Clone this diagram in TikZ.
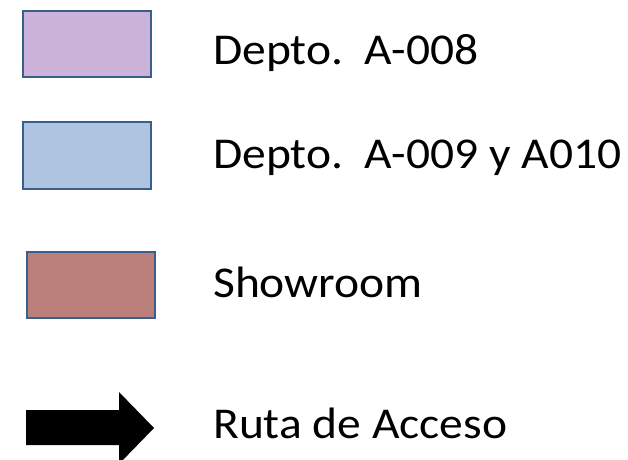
\documentclass[tikz,border=0pt]{standalone}
\usepackage{fontspec}
\setmainfont{Carlito}
\definecolor{edge}{HTML}{3A5F8E}
\definecolor{lilac}{HTML}{CAB2D8}
\definecolor{paleblue}{HTML}{AFC4E0}
\definecolor{rose}{HTML}{BB807C}
\newcommand{\widetext}[1]{\scalebox{1.08}[1]{#1}}
\tikzset{
  keybox/.style={draw=edge, line width=2pt, inner sep=0pt, anchor=north west},
  keytext/.style={anchor=base west, inner sep=0pt, font=\fontsize{44}{50}\selectfont}
}
\begin{document}
\begin{tikzpicture}[x=1pt,y=-1pt]
\clip (0,0) rectangle (628,459);
\useasboundingbox (0,0) rectangle (628,459);
\node[keybox, fill=lilac, minimum width=128pt, minimum height=66pt] (b1) at (22,10) {};
\node[keybox, fill=paleblue, minimum width=128pt, minimum height=67pt] (b2) at (22,121) {};
\node[keybox, fill=rose, minimum width=128pt, minimum height=66pt] (b3) at (26,251) {};
\fill[black] (26,410) -- (119,410) -- (119,392) -- (154,428) -- (119,464) -- (119,445) -- (26,445) -- cycle;
\node[keytext] (t1) at (213,64) {\widetext{Depto.~~A-008}};
\node[keytext] (t2) at (213,168) {\widetext{Depto.~~A-009 y A010}};
\node[keytext] (t3) at (213,297) {\widetext{Showroom}};
\node[keytext] (t4) at (213,438) {\widetext{Ruta de Acceso}};
\end{tikzpicture}
\end{document}
